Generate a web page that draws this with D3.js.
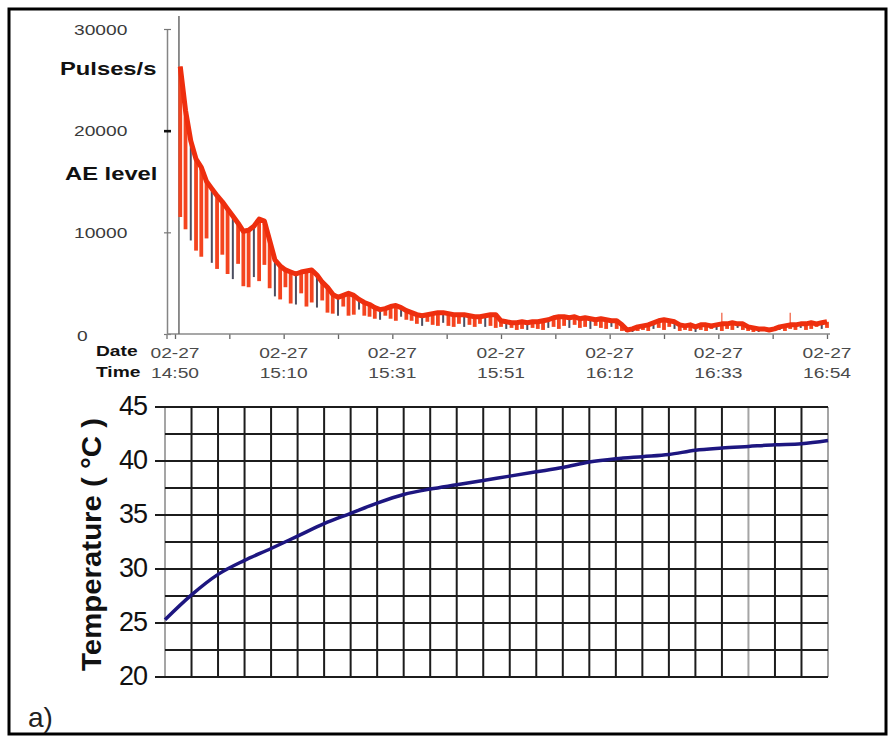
<!DOCTYPE html>
<html>
<head>
<meta charset="utf-8">
<script src="https://cdn.jsdelivr.net/npm/d3@7"></script>
<style>
  html, body { margin: 0; padding: 0; background: #fff; }
  svg { display: block; }
</style>
</head>
<body>
<svg id="chart" width="893" height="736"></svg>
<script>
// ---------- AE level (pulses/s), one sample per minute after 14:50 ----------
const aeStartMinute = 1;
const aeHigh = [
  26300, 22000, 19000, 17200, 16400, 15000, 14300, 13600, 13000, 12300,
  11600, 10900, 10100, 10200, 10600, 11300, 11100, 9200, 7300, 6700,
  6300, 6100, 5900, 6100, 6200, 6300, 5800, 5100, 4600, 3900,
  3600, 3800, 4000, 3800, 3400, 3100, 2900, 2600, 2400, 2500,
  2700, 2800, 2600, 2300, 2100, 1900, 1800, 1900, 2000, 2100,
  2100, 2000, 1900, 1900, 1900, 1800, 1700, 1700, 1800, 1900,
  1900, 1300, 1200, 1100, 1100, 1200, 1100, 1200, 1200, 1300,
  1400, 1600, 1700, 1700, 1600, 1700, 1500, 1600, 1500, 1400,
  1500, 1400, 1300, 1300, 900, 400, 500, 700, 800, 900,
  1100, 1300, 1400, 1300, 1200, 900, 800, 900, 700, 900,
  900, 800, 900, 1000, 1000, 1100, 1000, 1000, 700, 600,
  500, 500, 400, 500, 700, 800, 900, 900, 1000, 1000,
  1100, 1000, 1100, 1200
];
const aeLow = [
  11500, 10300, 9200, 8200, 7600, 9400, 7000, 6400, 7800, 5900,
  5400, 6900, 4700, 4600, 5600, 5200, 6800, 4500, 3700, 3400,
  4600, 3000, 2900, 4000, 2700, 3100, 2600, 3300, 2100, 2000,
  1800, 2700, 1800, 1900, 2400, 1800, 1700, 1500, 1400, 1800,
  1500, 1300, 1700, 1400, 1300, 1000, 800, 1200, 900, 800,
  1100, 800, 700, 1000, 700, 900, 700, 1000, 700, 800,
  600, 700, 500, 600, 400, 500, 400, 600, 500, 400,
  600, 700, 500, 800, 600, 900, 600, 700, 500, 800,
  600, 500, 700, 500, 300, 200, 200, 300, 400, 300,
  500, 600, 400, 700, 500, 300, 400, 300, 200, 400,
  300, 500, 400, 300, 500, 400, 600, 400, 300, 200,
  200, 300, 200, 300, 400, 300, 500, 400, 600, 400,
  500, 700, 500, 600
];
const aeBurstMinute = [104, 117];
const aeBurstValue = [2100, 2100];
const markerMinute = 0.75;          // start-of-record cursor
const timeDomain = [0, 124];        // minutes after 14:50
const aeDomain = [0, 30000];
const aeTicks = [0, 10000, 20000, 30000];
const dateLabels = ["02-27", "02-27", "02-27", "02-27", "02-27", "02-27", "02-27"];
const timeLabels = ["14:50", "15:10", "15:31", "15:51", "16:12", "16:33", "16:54"];

// ---------- Temperature (°C), one reading per grid column ----------
const tempStep = [0, 1, 2, 3, 4, 5, 6, 7, 8, 9, 10, 11, 12, 13, 14, 15, 16, 17, 18, 19, 20, 21, 22, 23, 24, 25];
const tempValue = [
  25.3, 27.6, 29.5, 30.8, 31.9, 33.05, 34.2, 35.15, 36.1, 36.9,
  37.4, 37.8, 38.2, 38.6, 39.0, 39.4, 39.9, 40.2, 40.4, 40.6,
  41.0, 41.2, 41.35, 41.5, 41.6, 41.9
];
const tempDomain = [20, 45];
const tempTicks = [20, 25, 30, 35, 40, 45];
const tempGridStep = 2.5;
const tempColumns = 25;

// ---------- drawing ----------
const svg = d3.select("#chart");
const FONT = "'Liberation Sans', Arial, Helvetica, sans-serif";
const SX = 1.28; // horizontal stretch of the upper panel's lettering
svg.attr("font-family", FONT);

// frame
svg.append("rect")
  .attr("x", 9).attr("y", 9).attr("width", 877).attr("height", 725)
  .attr("fill", "none").attr("stroke", "#000").attr("stroke-width", 3);

// ===== upper panel: AE level =====
const x = d3.scaleLinear().domain(timeDomain).range([175, 827]);
const y = d3.scaleLinear().domain(aeDomain).range([334, 29]);
const axisX0 = 167;

// y axis
const yAxis = svg.append("g")
  .attr("transform", `translate(${axisX0},0)`)
  .call(d3.axisLeft(y).tickValues(aeTicks).tickSizeOuter(0).tickSizeInner(3).tickFormat(""));
yAxis.select(".domain").attr("stroke", "#858585").attr("stroke-width", 1.5);
yAxis.selectAll(".tick line")
  .attr("x1", 4)
  .attr("stroke", d => d === 20000 ? "#111" : "#777")
  .attr("stroke-width", d => d === 20000 ? 2.6 : 1.2);
svg.append("line")
  .attr("x1", axisX0).attr("x2", axisX0)
  .attr("y1", y(0)).attr("y2", y(0) + 5)
  .attr("stroke", "#858585").attr("stroke-width", 1.5);

svg.append("g").selectAll("text").data(aeTicks).join("text")
  .attr("transform", d => `translate(${d === 0 ? 77 : 74},${y(d) + (d === 0 ? 7 : 5.5)}) scale(${SX},1)`)
  .attr("font-size", 15).attr("fill", "#3a3a3a")
  .text(d => d);

// axis titles
[["Pulses/s", 60, 75], ["AE level", 65, 180]].forEach(([t, tx, ty]) => {
  svg.append("text")
    .attr("transform", `translate(${tx},${ty}) scale(1.25,1)`)
    .attr("font-size", 19).attr("font-weight", "bold").attr("fill", "#111")
    .text(t);
});
[["Date", 96, 356], ["Time", 96, 377]].forEach(([t, tx, ty]) => {
  svg.append("text")
    .attr("transform", `translate(${tx},${ty}) scale(${SX},1)`)
    .attr("font-size", 15).attr("font-weight", "bold").attr("fill", "#111")
    .text(t);
});

// x axis
const tickCount = 12;
const xTicks = d3.range(tickCount + 1).map(i => timeDomain[0] + i * (timeDomain[1] - timeDomain[0]) / tickCount);
const xAxis = svg.append("g")
  .attr("transform", `translate(0,${y(0)})`)
  .call(d3.axisBottom(x).tickValues(xTicks).tickSizeOuter(0).tickSize(5).tickFormat(""));
xAxis.select(".domain").remove();
xAxis.selectAll(".tick line").attr("stroke", "#666").attr("stroke-width", 1.3);
svg.append("line")
  .attr("x1", axisX0).attr("x2", x(timeDomain[1]) + 3)
  .attr("y1", y(0)).attr("y2", y(0))
  .attr("stroke", "#8a8a8a").attr("stroke-width", 1.5);

const labelTicks = xTicks.filter((d, i) => i % 2 === 0);
const xLab = svg.append("g").selectAll("g").data(labelTicks).join("g");
xLab.append("text")
  .attr("transform", d => `translate(${x(d)},358) scale(${SX},1)`)
  .attr("text-anchor", "middle").attr("font-size", 15).attr("fill", "#4a4a4a")
  .text((d, i) => dateLabels[i]);
xLab.append("text")
  .attr("transform", d => `translate(${x(d)},378) scale(${SX},1)`)
  .attr("text-anchor", "middle").attr("font-size", 15).attr("fill", "#4a4a4a")
  .text((d, i) => timeLabels[i]);

// start cursor
svg.append("line")
  .attr("x1", x(markerMinute)).attr("x2", x(markerMinute))
  .attr("y1", 16).attr("y2", y(0))
  .attr("stroke", "#6a6a6a").attr("stroke-width", 1.5);

// AE samples: hi-lo spikes + level line
const aeData = aeHigh.map((h, i) => ({ t: aeStartMinute + i, high: h, low: aeLow[i] }));
const isDark = (d, i) => i % 4 === 2;
svg.append("g").selectAll("line").data(aeData).join("line")
  .attr("x1", d => x(d.t)).attr("x2", d => x(d.t))
  .attr("y1", d => y(d.low)).attr("y2", d => y(d.high))
  .attr("stroke", (d, i) => isDark(d, i) ? "#4b4e60" : "#f4441f")
  .attr("stroke-width", (d, i) => isDark(d, i) ? 2 : 3.8);

svg.append("g").selectAll("line").data(aeBurstMinute).join("line")
  .attr("x1", d => x(d)).attr("x2", d => x(d))
  .attr("y1", d => y(aeHigh[d - aeStartMinute]))
  .attr("y2", (d, i) => y(aeBurstValue[i]))
  .attr("stroke", "#f05a3a").attr("stroke-width", 1.2);

svg.append("path")
  .datum(aeData)
  .attr("fill", "none")
  .attr("stroke", "#ee2e0e")
  .attr("stroke-width", 5)
  .attr("stroke-linejoin", "round")
  .attr("d", d3.line().x(d => x(d.t)).y(d => y(d.high)));

// ===== lower panel: temperature =====
const xT = d3.scaleLinear().domain([0, tempColumns]).range([165, 828]);
const yT = d3.scaleLinear().domain(tempDomain).range([677, 407]);

const hGrid = d3.range(tempDomain[0], tempDomain[1] + 1e-6, tempGridStep);
const vGrid = d3.range(tempColumns + 1);
const lightCols = [0, 22, tempColumns];

const grid = svg.append("g");
grid.selectAll("line.v").data(vGrid).join("line")
  .attr("class", "v")
  .attr("x1", d => xT(d)).attr("x2", d => xT(d))
  .attr("y1", yT(tempDomain[1])).attr("y2", yT(tempDomain[0]))
  .attr("stroke", d => lightCols.includes(d) ? "#a5a5a5" : "#1c1c1c")
  .attr("stroke-width", 2);
grid.selectAll("line.h").data(hGrid).join("line")
  .attr("class", "h")
  .attr("x1", d => d % 5 === 0 ? xT(0) - 10 : xT(0))
  .attr("x2", xT(tempColumns))
  .attr("y1", d => yT(d)).attr("y2", d => yT(d))
  .attr("stroke", "#1c1c1c").attr("stroke-width", 2);

svg.append("g").selectAll("text").data(tempTicks).join("text")
  .attr("x", 147).attr("y", d => yT(d) + 8)
  .attr("text-anchor", "end").attr("font-size", 27).attr("fill", "#111")
  .attr("letter-spacing", -1)
  .text(d => d);

svg.append("text")
  .attr("transform", "translate(101,671) rotate(-90)")
  .attr("font-size", 28).attr("font-weight", "bold").attr("fill", "#111")
  .attr("textLength", 253).attr("lengthAdjust", "spacingAndGlyphs")
  .text("Temperature ( \u00B0C )");

svg.append("path")
  .datum(tempStep.map((s, i) => ({ s, v: tempValue[i] })))
  .attr("fill", "none")
  .attr("stroke", "#1d1680")
  .attr("stroke-width", 3.5)
  .attr("stroke-linejoin", "round")
  .attr("d", d3.line().curve(d3.curveMonotoneX).x(d => xT(d.s)).y(d => yT(d.v)));

// panel tag
svg.append("text")
  .attr("x", 28).attr("y", 727)
  .attr("font-size", 28).attr("fill", "#222")
  .text("a)");
</script>
</body>
</html>
